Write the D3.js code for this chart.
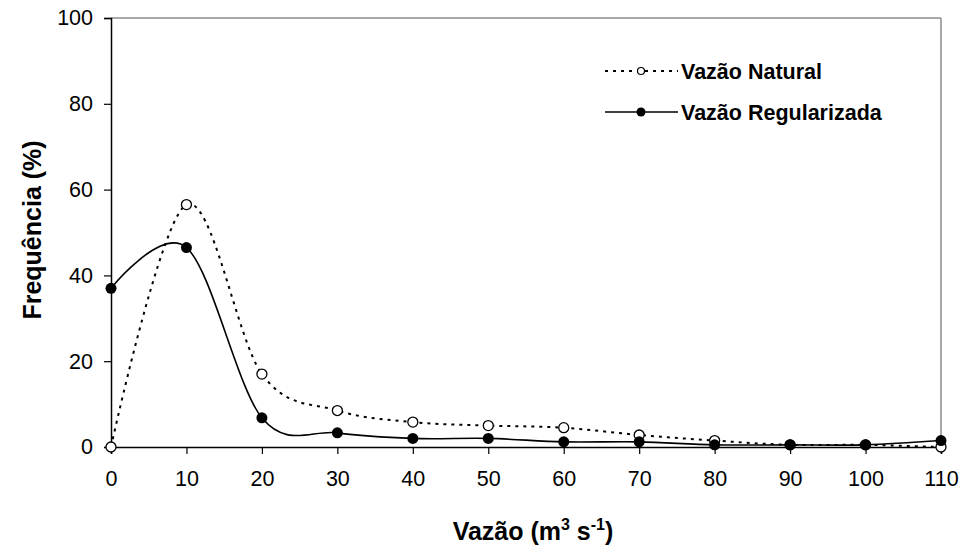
<!DOCTYPE html>
<html><head><meta charset="utf-8">
<script src="https://cdn.jsdelivr.net/npm/d3@7"></script>
<style>body{margin:0;background:#fff}svg{display:block}</style>
</head><body>
<svg id="c" width="965" height="549"></svg>
<script>
const xValues = [0,10,20,30,40,50,60,70,80,90,100,110];
const natural = [0,56.5,17,8.5,5.8,5,4.5,2.8,1.5,0.5,0.5,0];
const regularizada = [37,46.5,6.8,3.3,2,2,1.2,1.2,0.5,0.5,0.5,1.5];
const yTicks = [0,20,40,60,80,100];
const seriesNames = ["Vazão Natural","Vazão Regularizada"];

const svg = d3.select("#c");
const L=111, R=941, T=18, B=447;
const x = d3.scaleLinear().domain([0,110]).range([L,R]);
const y = d3.scaleLinear().domain([0,100]).range([B,T]);
const font = "Liberation Sans, Arial, sans-serif";

// frame top/right
svg.append("line").attr("x1",L).attr("x2",R).attr("y1",T).attr("y2",T).attr("stroke","#8c8c8c").attr("stroke-width",1.5);
svg.append("line").attr("x1",R).attr("x2",R).attr("y1",T).attr("y2",B).attr("stroke","#8c8c8c").attr("stroke-width",1.5);

const yAxis = svg.append("g").attr("transform",`translate(${L},0)`)
  .call(d3.axisLeft(y).tickValues(yTicks).tickSize(7).tickPadding(11).tickFormat(d3.format("d")));
const xAxis = svg.append("g").attr("transform",`translate(0,${B})`)
  .call(d3.axisBottom(x).tickValues(xValues).tickSize(7).tickPadding(17).tickFormat(d3.format("d")));
[yAxis,xAxis].forEach(g=>{
  g.select(".domain").attr("stroke","#000").attr("stroke-width",1.5);
  g.selectAll(".tick line").attr("stroke","#000").attr("stroke-width",1.2);
  g.selectAll("text").attr("font-family",font).attr("font-size",21.5).attr("fill","#000");
});

const line = d3.line().x((d,i)=>x(xValues[i])).y(d=>y(d)).curve(d3.curveCardinal.tension(0));

svg.append("path").datum(natural).attr("d",line).attr("fill","none")
  .attr("stroke","#000").attr("stroke-width",2).attr("stroke-dasharray","3,5");
svg.append("path").datum(regularizada).attr("d",line).attr("fill","none")
  .attr("stroke","#000").attr("stroke-width",1.6);

svg.append("g").selectAll("circle").data(natural).join("circle")
  .attr("cx",(d,i)=>x(xValues[i])).attr("cy",d=>y(d)).attr("r",5)
  .attr("fill","#fff").attr("stroke","#000").attr("stroke-width",1.3);
svg.append("g").selectAll("circle").data(regularizada).join("circle")
  .attr("cx",(d,i)=>x(xValues[i])).attr("cy",d=>y(d)).attr("r",5.5)
  .attr("fill","#000");

// legend
const lg = svg.append("g");
lg.append("line").attr("x1",605).attr("x2",678).attr("y1",71).attr("y2",71)
  .attr("stroke","#000").attr("stroke-width",2).attr("stroke-dasharray","3,5");
lg.append("circle").attr("cx",641).attr("cy",71).attr("r",3.5).attr("fill","#fff").attr("stroke","#000").attr("stroke-width",1.2);
lg.append("text").attr("x",681).attr("y",71).attr("dy","0.35em").text(seriesNames[0]);
lg.append("line").attr("x1",605).attr("x2",678).attr("y1",112).attr("y2",112)
  .attr("stroke","#000").attr("stroke-width",1.6);
lg.append("circle").attr("cx",641).attr("cy",112).attr("r",4.5).attr("fill","#000");
lg.append("text").attr("x",681).attr("y",112).attr("dy","0.35em").text(seriesNames[1]);
lg.selectAll("text").attr("font-family",font).attr("font-size",21.5).attr("font-weight","bold");

// titles
const xt = svg.append("text").attr("x",533).attr("y",540).attr("text-anchor","middle")
  .attr("font-family",font).attr("font-size",25).attr("font-weight","bold");
xt.append("tspan").text("Vazão (m");
xt.append("tspan").attr("font-size",16).attr("dy",-10).text("3");
xt.append("tspan").attr("dy",10).text(" s");
xt.append("tspan").attr("font-size",16).attr("dy",-10).text("-1");
xt.append("tspan").attr("dy",10).text(")");

svg.append("text").attr("transform","translate(41,230) rotate(-90)").attr("text-anchor","middle")
  .attr("font-family",font).attr("font-size",25).attr("font-weight","bold").text("Frequência (%)");
</script>
</body></html>
